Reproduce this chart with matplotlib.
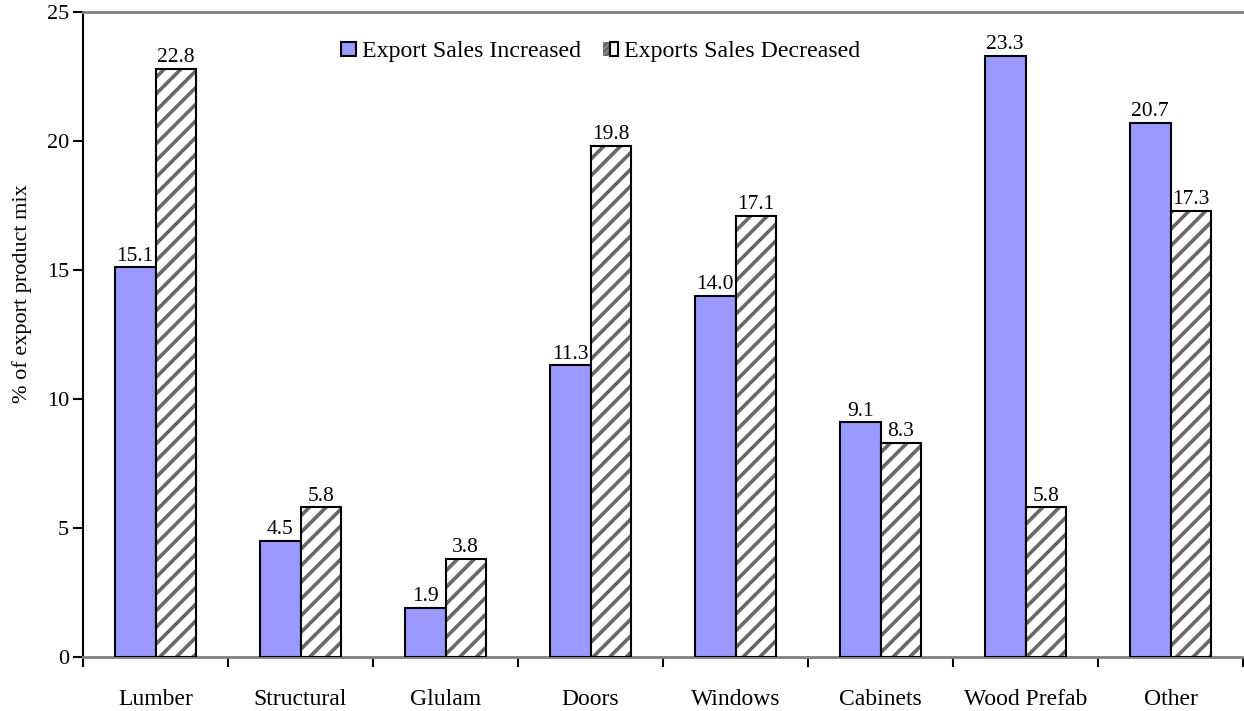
import numpy as np
import matplotlib
matplotlib.use("Agg")
import matplotlib.pyplot as plt
from matplotlib.patches import Patch
from matplotlib.legend_handler import HandlerTuple

# -----------------------------
# Data
# -----------------------------
categories = ["Lumber", "Structural", "Glulam", "Doors", "Windows",
              "Cabinets", "Wood Prefab", "Other"]
increased = [15.1, 4.5, 1.9, 11.3, 14.0, 9.1, 23.3, 20.7]
decreased = [22.8, 5.8, 3.8, 19.8, 17.1, 8.3, 5.8, 17.3]
yticks = [0, 5, 10, 15, 20, 25]

BLUE = "#9999FF"
HATCH_GRAY = "#686868"
AXIS_GRAY = "#808080"

plt.rcParams["font.family"] = ["Liberation Serif", "DejaVu Serif"]
plt.rcParams["hatch.linewidth"] = 2.6

# -----------------------------
# Figure
# -----------------------------
fig = plt.figure(figsize=(12.44, 7.11), dpi=100)
ax = fig.add_axes([83 / 1244, 1 - 657 / 711, 1160 / 1244, 645 / 711])

x = np.arange(len(categories)) + 0.5
w = 0.28

ax.bar(x - w / 2, increased, w, color=BLUE, edgecolor="black",
       linewidth=1.5, zorder=3)
# hatched bars: gray hatch first, then black outline on top
ax.bar(x + w / 2, decreased, w, color="white", edgecolor=HATCH_GRAY,
       hatch="//", linewidth=0, zorder=3)
ax.bar(x + w / 2, decreased, w, fill=False, edgecolor="black",
       linewidth=1.5, zorder=4)

for xi, v in zip(x - w / 2, increased):
    ax.annotate(f"{v:.1f}", (xi, v), xytext=(0, 1.2), textcoords="offset points",
                ha="center", va="bottom", fontsize=15.5)
for xi, v in zip(x + w / 2, decreased):
    ax.annotate(f"{v:.1f}", (xi, v), xytext=(0, 1.2), textcoords="offset points",
                ha="center", va="bottom", fontsize=15.5)

# axes styling
ax.set_xlim(0, len(categories))
ax.set_ylim(0, 25)
ax.set_yticks(yticks)
ax.tick_params(axis="y", direction="out", length=7, width=1.5,
               labelsize=16, pad=3)

ax.set_xticks(np.arange(len(categories) + 1))
ax.set_xticklabels([])
ax.tick_params(axis="x", which="major", direction="out", length=7,
               width=1.5, color="black")
ax.set_xticks(x, minor=True)
ax.set_xticklabels(categories, minor=True, fontsize=17)
ax.tick_params(axis="x", which="minor", length=0, pad=23)

ax.spines["left"].set_color("black")
ax.spines["left"].set_linewidth(1.5)
ax.spines["bottom"].set_color(AXIS_GRAY)
ax.spines["bottom"].set_linewidth(2)
ax.spines["top"].set_color(AXIS_GRAY)
ax.spines["top"].set_linewidth(2)
ax.spines["right"].set_visible(False)

ax.set_ylabel("% of export product mix", fontsize=16)
ax.yaxis.set_label_coords(-0.044, 0.563)

# legend
h1 = Patch(facecolor=BLUE, edgecolor="black", linewidth=1.5)
h2a = Patch(facecolor="white", edgecolor=HATCH_GRAY, hatch="//////", linewidth=0)
h2b = Patch(fill=False, edgecolor="black", linewidth=1.5)
ax.legend([h1, (h2a, h2b)], ["Export Sales Increased", "Exports Sales Decreased"],
          handler_map={tuple: HandlerTuple(ndivide=None, pad=0)},
          loc="center", bbox_to_anchor=(0.446, 0.938), ncol=2, frameon=False,
          fontsize=17.2, handlelength=0.65, handleheight=0.55,
          handletextpad=0.25, columnspacing=0.9)

plt.savefig("out.png", dpi=100)
